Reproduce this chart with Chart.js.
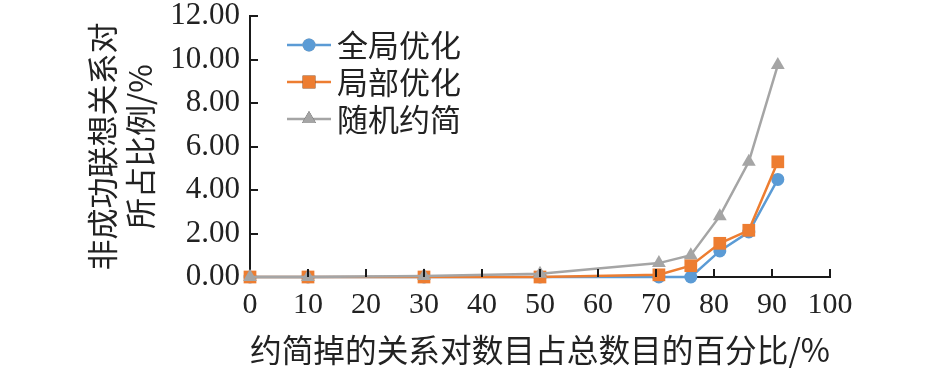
<!DOCTYPE html>
<html>
<head>
<meta charset="utf-8">
<script src="https://cdn.jsdelivr.net/npm/chart.js@4/dist/chart.umd.min.js"></script>
<style>
  html, body { margin: 0; padding: 0; background: #fff; }
  #wrap { width: 945px; height: 373px; }
</style>
</head>
<body>
<div id="wrap"><canvas id="c"></canvas></div>
<script>
// reduction percentage (x) and share of unsuccessful pairs (y, %)
const xValues = [0, 10, 30, 50, 70.5, 76, 81, 86, 91];
const globalOpt = [0, 0, 0, 0, 0, 0, 1.2, 2.07, 4.49];
const localOpt = [0, 0, 0, 0, 0.1, 0.52, 1.55, 2.15, 5.3];
const randomRed = [0, 0, 0.05, 0.15, 0.64, 1.0, 2.8, 5.3, 9.75];
const seriesNames = ['全局优化', '局部优化', '随机约简'];
const xTitle = '约简掉的关系对数目占总数目的百分比/%';
const yTitle = ['非成功联想关系对', '所占比例/%'];

const CJK = '"Noto Sans CJK SC", sans-serif';
const NUM = '"Liberation Serif", serif';

const pts = arr => arr.map((v, i) => ({ x: xValues[i], y: v }));

// inward tick marks like the original
const innerTicks = {
  id: 'innerTicks',
  afterDraw(chart) {
    const { ctx, scales: { x, y } } = chart;
    ctx.save();
    ctx.strokeStyle = '#1a1a1a';
    ctx.lineWidth = 2;
    ctx.beginPath();
    x.ticks.forEach(t => {
      if (t.value === 0) return;
      const px = Math.round(x.getPixelForValue(t.value));
      ctx.moveTo(px, y.bottom);
      ctx.lineTo(px, y.bottom - 8);
    });
    y.ticks.forEach(t => {
      if (t.value === 0) return;
      const py = Math.round(y.getPixelForValue(t.value));
      ctx.moveTo(x.left, py);
      ctx.lineTo(x.left + 8, py);
    });
    ctx.stroke();
    ctx.restore();
  }
};

// legend inside the plot, top left
const insideLegend = {
  id: 'insideLegend',
  afterDraw(chart) {
    const { ctx } = chart;
    const x0 = 287, x1 = 331, tx = 337;
    const rows = [45, 82, 119];
    ctx.save();
    chart.data.datasets.forEach((ds, i) => {
      const yy = rows[i];
      ctx.strokeStyle = ds.borderColor;
      ctx.lineWidth = 2.5;
      ctx.beginPath();
      ctx.moveTo(x0, yy);
      ctx.lineTo(x1, yy);
      ctx.stroke();
      Chart.helpers.drawPoint(ctx, {
        pointStyle: ds.pointStyle, radius: ds.pointRadius, borderWidth: 0
      }, (x0 + x1) / 2, yy);
      ctx.fillStyle = ds.pointBackgroundColor;
      ctx.fill();
      ctx.fillStyle = '#222';
      ctx.font = '31px ' + CJK;
      ctx.textBaseline = 'middle';
      ctx.fillText(ds.label, tx, yy);
    });
    ctx.restore();
  }
};

const colors = ['#5b9bd5', '#ed7d31', '#a5a5a5'];
const styles = ['circle', 'rect', 'triangle'];
const radii = [6.5, 9, 8];
const series = [globalOpt, localOpt, randomRed];

new Chart(document.getElementById('c'), {
  type: 'line',
  data: {
    datasets: series.map((s, i) => ({
      label: seriesNames[i],
      data: pts(s),
      borderColor: colors[i],
      backgroundColor: colors[i],
      pointBackgroundColor: colors[i],
      pointBorderColor: colors[i],
      pointStyle: styles[i],
      pointRadius: radii[i],
      pointBorderWidth: 0,
      borderWidth: 2.5,
      tension: 0,
      clip: false,
      order: 3 - i,
    })),
  },
  options: {
    responsive: true, maintainAspectRatio: false, animation: false,
    layout: { padding: { left: 80, right: 115, top: 0, bottom: 0 } },
    plugins: { legend: { display: false }, tooltip: { enabled: false } },
    scales: {
      x: {
        type: 'linear', min: 0, max: 100,
        grid: { display: false, drawTicks: false },
        border: { display: true, color: '#1a1a1a', width: 2 },
        ticks: { stepSize: 10, color: '#222', padding: 10, maxRotation: 0, font: { family: NUM, size: 30 } },
        title: { display: true, text: xTitle, color: '#222', padding: { top: 2 }, font: { family: CJK, size: 32 } },
        afterFit: s => { s.height = 96; },
      },
      y: {
        min: 0, max: 12,
        grid: { display: false, drawTicks: false },
        border: { display: true, color: '#1a1a1a', width: 2 },
        ticks: { stepSize: 2, color: '#222', padding: 10, font: { family: NUM, size: 31, lineHeight: 0.4 }, callback: v => v.toFixed(2) },
        title: { display: true, text: yTitle, color: '#222', padding: { bottom: 0 }, font: { family: CJK, size: 31, lineHeight: 1.2 } },
        afterFit: s => { s.width = 170; },
      },
    },
  },
  plugins: [innerTicks, insideLegend],
});
</script>
</body>
</html>
